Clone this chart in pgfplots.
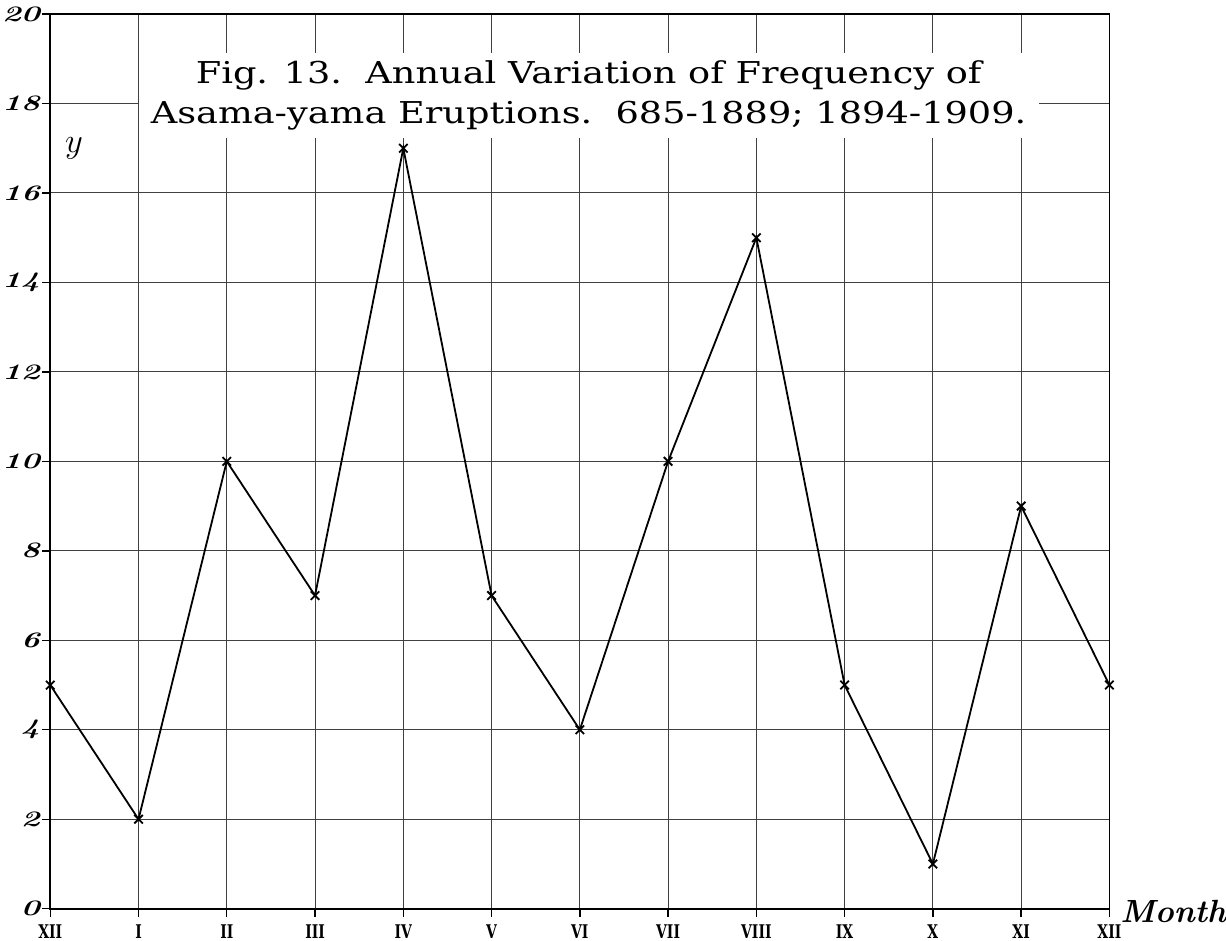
\documentclass[border=0pt]{standalone}
\usepackage{fontspec}
\usepackage{graphicx}
\usepackage{pgfplots}
\pgfplotsset{compat=1.18}
\newfontfamily\titlefont[FakeStretch=1.22]{DejaVu Serif}
\newfontfamily\numfont{DejaVu Serif}
\newcommand{\xl}[1]{\scalebox{0.74}[1]{\numfont\fontsize{9.4}{11}\selectfont\bfseries #1}}
\begin{document}
\begin{tikzpicture}
\begin{axis}[
  scale only axis,
  width=528pt, height=446pt,
  xmin=0, xmax=12, ymin=0, ymax=20,
  xtick={0,...,12},
  xticklabels={\xl{XII},\xl{I},\xl{II},\xl{III},\xl{IV},\xl{V},\xl{VI},\xl{VII},\xl{VIII},\xl{IX},\xl{X},\xl{XI},\xl{XII}},
  ytick={0,2,...,20},
  yticklabel={\scalebox{1.45}[1]{\fontsize{11}{12}\selectfont\bfseries\itshape\pgfmathprintnumber{\tick}}},
  /pgf/number format/assume math mode=true,
  xtick pos=bottom, ytick pos=left,
  grid=major,
  major grid style={black!75, line width=0.5pt},
  axis line style={black, line width=0.9pt},
  tick style={black, line width=0.7pt},
  tick align=outside,
  major tick length=4pt,
  xticklabel style={inner sep=1pt, yshift=-3pt},
  yticklabel style={inner sep=1pt},
  clip=false,
]
\addplot[black, line width=0.9pt, mark=x, mark size=3pt, mark options={line width=0.9pt}]
  coordinates {(0,5) (1,2) (2,10) (3,7) (4,17) (5,7) (6,4) (7,10) (8,15) (9,5) (10,1) (11,9) (12,5)};
\node[fill=white, inner xsep=6pt, inner ysep=4pt, align=center, font=\titlefont\fontsize{15}{20}\selectfont]
  at (axis cs:6.1,18.18) {Fig. 13.\ \ Annual Variation of Frequency of\\Asama-yama Eruptions.\ \ 685-1889;\ 1894-1909.};
\node[font=\fontsize{18}{20}\selectfont] at (axis cs:0.27,17.0) {$y$};
\node[anchor=base west, font=\fontsize{16}{18}\selectfont\bfseries\itshape, inner sep=0pt] at (axis cs:12.12,-0.3) {Month};
\path (axis cs:0,20) ++(0,7pt);
\end{axis}
\end{tikzpicture}
\end{document}
